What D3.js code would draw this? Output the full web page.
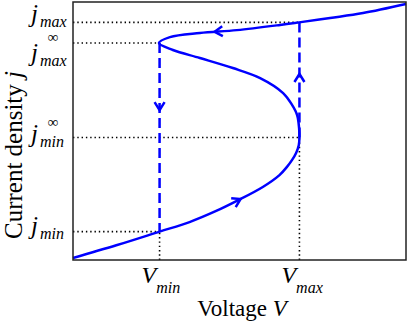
<!DOCTYPE html>
<html>
<head>
<meta charset="utf-8">
<script src="https://cdn.jsdelivr.net/npm/d3@7"></script>
<style>
  body { margin: 0; background: #fff; }
  svg { display: block; }
</style>
</head>
<body>
<div id="chart"></div>
<script>
// S-shaped current-voltage curve (V and j in arbitrary units 0..10)
const curveV = [0, 1.3, 2.6, 3.5, 4.3, 4.92, 5.7, 6.2, 6.42, 6.58, 6.7, 6.78, 6.8, 6.79, 6.73, 6.56, 6.31, 5.62, 4.8, 3.81, 3.0, 2.58, 2.91, 3.81, 4.92, 6.22, 6.79, 7.72, 8.71, 10];
const curveJ = [0.08, 0.57, 1.10, 1.47, 1.9, 2.29, 2.83, 3.29, 3.6, 3.88, 4.15, 4.45, 4.75, 5.1, 5.62, 6.05, 6.47, 7.05, 7.44, 7.83, 8.14, 8.41, 8.64, 8.80, 8.91, 9.11, 9.21, 9.38, 9.57, 9.92];

// characteristic values
const vMin = 2.6, vMax = 6.8;
const jMin = 1.10, jMinInf = 4.75, jMaxInf = 8.41, jMax = 9.21;

// tick labels
const xTickValues = [vMin, vMax];
const xTickSubs = ['min', 'max'];
const yTickValues = [jMin, jMinInf, jMaxInf, jMax];
const yTickSubs = ['min', 'min', 'max', 'max'];
const yTickInf = [false, true, true, false];

// arrows on the curve (reverse = against the drawing direction of the curve)
const curveArrowV = [5.05, 4.25];
const curveArrowJ = [2.32, 8.88];
const curveArrowReverse = [false, true];

// arrows on the jumps
const jumpArrowV = [vMin, vMax];
const jumpArrowJ = [5.81, 7.21];
const jumpArrowDir = [-1, 1];

const SERIF = 'Liberation Serif';

// small helper: every text piece gets its own font settings
function piece(parent, str, size, italic) {
    return parent.append('tspan')
        .style('font-family', SERIF)
        .style('font-size', size + 'px')
        .style('font-style', italic ? 'italic' : 'normal')
        .text(str);
}

class HysteresisPlot {
    constructor(_config) {
        this.config = {
            parentElement: _config.parentElement,
            containerWidth: _config.containerWidth || 409,
            containerHeight: _config.containerHeight || 322,
            margin: _config.margin || {top: 2, right: 3, bottom: 62, left: 73}
        };
        this.initVis();
        this.renderVis();
    }

    initVis() {
        let vis = this;
        const m = vis.config.margin;
        vis.width = vis.config.containerWidth - m.left - m.right;
        vis.height = vis.config.containerHeight - m.top - m.bottom;

        vis.svg = d3.select(vis.config.parentElement)
            .append('svg')
            .attr('width', vis.config.containerWidth)
            .attr('height', vis.config.containerHeight);

        vis.xScale = d3.scaleLinear().domain([0, 10]).range([m.left, m.left + vis.width]);
        vis.yScale = d3.scaleLinear().domain([0, 10]).range([m.top + vis.height, m.top]);
    }

    arrowHead(g, px, py, ang) {
        // open chevron with the tip at (px,py), pointing at angle ang
        const back = 8, half = 5;
        const bx = px - back * Math.cos(ang), by = py - back * Math.sin(ang);
        const nx = -Math.sin(ang), ny = Math.cos(ang);
        g.append('path')
            .attr('d', `M${bx + half * nx},${by + half * ny}L${px},${py}L${bx - half * nx},${by - half * ny}`)
            .attr('fill', 'none')
            .attr('stroke', '#0000ff')
            .attr('stroke-width', 2.5)
            .attr('stroke-linejoin', 'miter');
    }

    renderVis() {
        let vis = this;
        const x = vis.xScale, y = vis.yScale;
        const x0 = x(0), yb = y(0);

        // dotted guide lines
        const guides = vis.svg.append('g')
            .attr('stroke', '#000')
            .attr('stroke-width', 1.6)
            .attr('stroke-dasharray', '1.4,2.9')
            .attr('fill', 'none');
        const hEnds = [vMin, vMax, vMin, vMax];
        yTickValues.forEach((jv, i) => {
            guides.append('line')
                .attr('x1', x0).attr('x2', x(hEnds[i]))
                .attr('y1', y(jv)).attr('y2', y(jv));
        });
        const vEnds = [jMin, jMinInf];
        xTickValues.forEach((vv, i) => {
            guides.append('line')
                .attr('x1', x(vv)).attr('x2', x(vv))
                .attr('y1', yb).attr('y2', y(vEnds[i]));
        });

        // dashed jumps
        const jumpFrom = [jMaxInf, jMinInf];
        const jumpTo = [jMin, jMax];
        xTickValues.forEach((vv, i) => {
            vis.svg.append('line')
                .attr('x1', x(vv)).attr('x2', x(vv))
                .attr('y1', y(jumpFrom[i])).attr('y2', y(jumpTo[i]))
                .attr('stroke', '#0000ff')
                .attr('stroke-width', 2.5)
                .attr('stroke-dasharray', '10,5');
        });
        jumpArrowV.forEach((vv, i) => {
            vis.arrowHead(vis.svg, x(vv), y(jumpArrowJ[i]), jumpArrowDir[i] > 0 ? -Math.PI / 2 : Math.PI / 2);
        });

        // the curve
        const pts = curveV.map((v, i) => [v, curveJ[i]]);
        const line = d3.line()
            .x(d => x(d[0]))
            .y(d => y(d[1]))
            .curve(d3.curveCatmullRom.alpha(0.5));
        const path = vis.svg.append('path')
            .datum(pts)
            .attr('d', line)
            .attr('fill', 'none')
            .attr('stroke', '#0000ff')
            .attr('stroke-width', 2.5);

        // arrows on the curve, direction taken from the path itself
        const node = path.node();
        const total = node.getTotalLength();
        curveArrowV.forEach((v, i) => {
            const tx = x(v), ty = y(curveArrowJ[i]);
            let best = 0, bestD = Infinity;
            for (let l = 0; l <= total; l += 0.5) {
                const p = node.getPointAtLength(l);
                const d = (p.x - tx) ** 2 + (p.y - ty) ** 2;
                if (d < bestD) { bestD = d; best = l; }
            }
            const p = node.getPointAtLength(best);
            const a = node.getPointAtLength(Math.max(0, best - 2));
            const b = node.getPointAtLength(Math.min(total, best + 2));
            let ang = Math.atan2(b.y - a.y, b.x - a.x);
            if (curveArrowReverse[i]) ang += Math.PI;
            vis.arrowHead(vis.svg, p.x, p.y, ang);
        });

        // frame
        vis.svg.append('rect')
            .attr('x', x0).attr('y', y(10))
            .attr('width', x(10) - x0).attr('height', yb - y(10))
            .attr('fill', 'none')
            .attr('stroke', '#222')
            .attr('stroke-width', 1.5);

        // y tick labels (hand placed like the original)
        const yLabelShift = [2, 4.5, 18, 0];
        const infShift = [0, -15, -19, 0];
        yTickValues.forEach((jv, i) => {
            const base = y(jv) + yLabelShift[i];
            const t = vis.svg.append('text')
                .attr('x', 31).attr('y', base)
                .style('font-family', SERIF);
            piece(t, 'j', 25, true);
            piece(t, yTickSubs[i], 16, true).attr('dx', 2).attr('dy', 5);
            if (yTickInf[i]) {
                vis.svg.append('text')
                    .attr('x', 53).attr('y', base + infShift[i])
                    .attr('text-anchor', 'middle')
                    .style('font-family', SERIF)
                    .style('font-size', '15px')
                    .text('\u221e');
            }
        });

        // x tick labels
        xTickValues.forEach((vv, i) => {
            const t = vis.svg.append('text')
                .attr('x', x(vv) - 18).attr('y', 283)
                .style('font-family', SERIF);
            piece(t, 'V', 24, true);
            piece(t, xTickSubs[i], 16, true).attr('dy', 10);
        });

        // axis titles
        const xt = vis.svg.append('text')
            .attr('x', 242).attr('y', 316)
            .attr('text-anchor', 'middle')
            .style('font-family', SERIF)
            .style('font-size', '23px');
        piece(xt, 'Voltage ', 23, false);
        piece(xt, 'V', 23, true);

        const yt = vis.svg.append('text')
            .attr('transform', 'translate(22,155) rotate(-90)')
            .attr('text-anchor', 'middle')
            .style('font-family', SERIF)
            .style('font-size', '25px');
        piece(yt, 'Current density ', 25, false);
        piece(yt, 'j', 25, true);
    }
}

new HysteresisPlot({parentElement: '#chart'});
</script>
</body>
</html>
